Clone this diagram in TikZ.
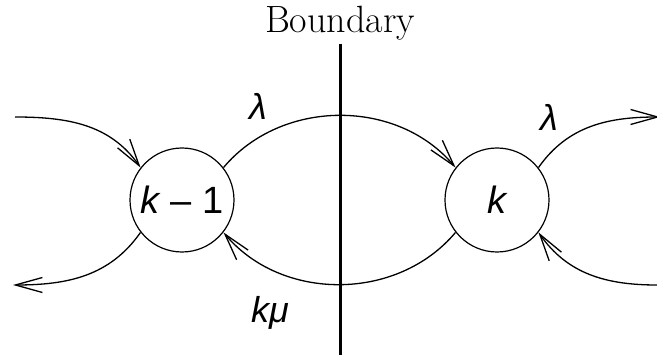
\documentclass[tikz,border=0pt]{standalone}
\usepackage{fontspec}
\newfontfamily\hv{Liberation Sans}
\usetikzlibrary{arrows.meta}
\tikzset{
  state/.style={draw, circle, line width=1.2pt, minimum size=104pt, inner sep=0pt, font=\hv\fontsize{38}{40}\selectfont},
  flow/.style={line width=1.3pt, -{Straight Barb[length=27pt,width=15pt]}},
  lab/.style={font=\hv\itshape\fontsize{36}{40}\selectfont, inner sep=0pt}
}
\begin{document}
\begin{tikzpicture}[x=1pt,y=1pt]
\useasboundingbox (0,0) rectangle (657,362);
\node[state] (A) at (182,162) {\itshape k\upshape{} – 1};
\node[state] (B) at (497,162) {\itshape k};
\coordinate (bt) at (340,318);
\coordinate (bb) at (340,7);
\draw[line width=3pt] (bt) -- (bb);
\node[anchor=base, inner sep=0pt, font=\fontsize{38}{40}\selectfont] (T) at (340,329) {Boundary};
\node[lab] (l1) at (258,256) {λ};
\node[lab] (l2) at (549,245) {λ};
\node[lab] (l3) at (270,49) {kμ};
\coordinate (LT) at (15,245);
\coordinate (LB) at (13,77);
\coordinate (RT) at (660,245);
\coordinate (RB) at (657,77);
\draw[flow] (A.38) to[out=50,in=130] (B.142);
\draw[flow] (B.218) to[out=230,in=310] (A.322);
\draw[flow] (LT) to[out=0,in=125] (A.142);
\draw[flow] (A.218) to[out=235,in=0] (LB);
\draw[flow] (B.38) to[out=55,in=180] (RT);
\draw[flow] (RB) to[out=180,in=305] (B.322);
\end{tikzpicture}
\end{document}
